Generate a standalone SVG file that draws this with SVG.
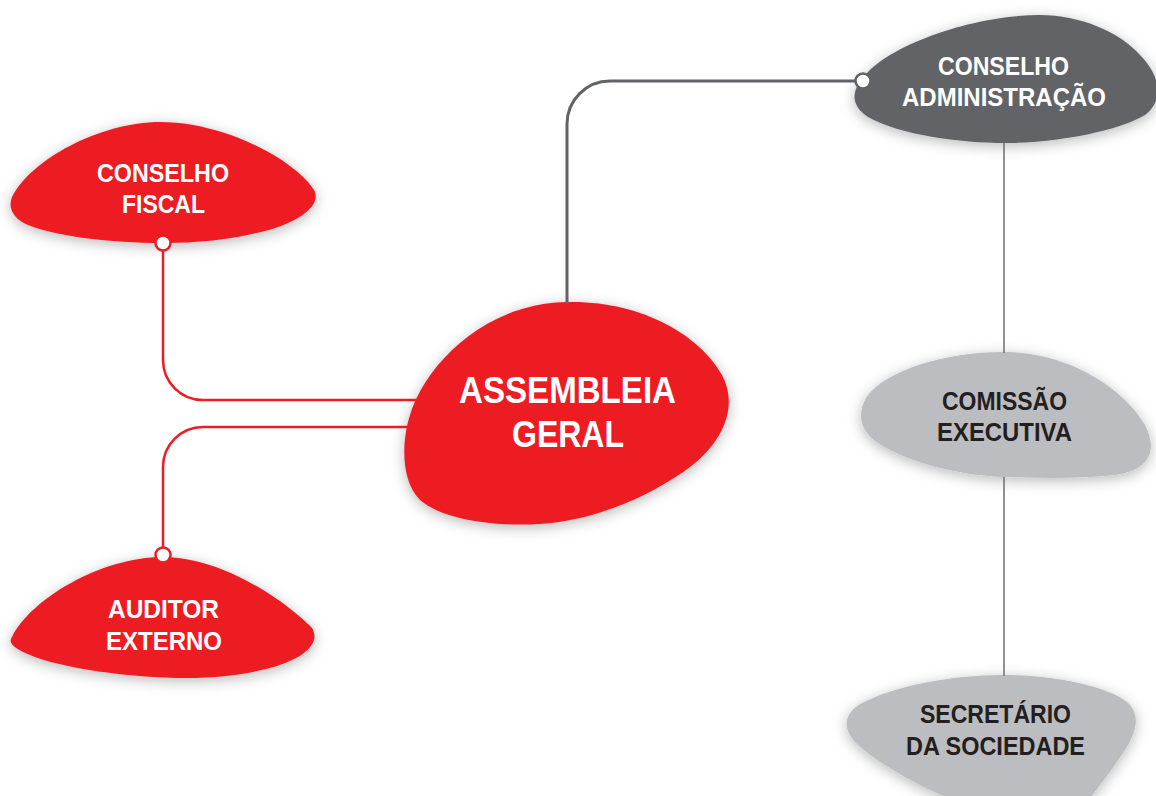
<svg xmlns="http://www.w3.org/2000/svg" width="1156" height="796" viewBox="0 0 1156 796">
<style>
.lbl{font-family:"Liberation Sans",Arial,sans-serif;font-weight:bold;font-size:26px;text-anchor:middle}
.big{font-size:37px}
.w{fill:#ffffff}
.d{fill:#231f20}
.red{fill:#ed1c24;filter:url(#sh)}
.dk{fill:#626366;filter:url(#sh)}
.lt{fill:#bcbdc0;filter:url(#sh)}
.cr{fill:none;stroke:#ed1c24;stroke-width:2.5}
.cg{fill:none;stroke:#626366;stroke-width:3}
.ct{fill:none;stroke:#6d6e71;stroke-width:1.5}
.dotr{fill:#ffffff;stroke:#ed1c24;stroke-width:2.5}
.dotg{fill:#ffffff;stroke:#626366;stroke-width:2.5}
</style>
<defs>
<filter id="sh" x="-20%" y="-30%" width="140%" height="160%">
<feDropShadow dx="0" dy="3" stdDeviation="7" flood-color="#000000" flood-opacity="0.28"/>
</filter>
</defs>
<rect width="1156" height="796" fill="#ffffff"/>
<g id="conselho-fiscal">
<path class="red" d="M12,197 C30,160 100,122 160,122 C225,122 295,160 314,190 C322,205 300,222 265,231 C230,240 195,243 163,243 C110,243 55,236 28,225 C12,218 8,207 12,197 Z"/>
<text class="lbl w" x="163" y="182" textLength="132" lengthAdjust="spacingAndGlyphs">CONSELHO</text>
<text class="lbl w" x="163.5" y="213" textLength="83" lengthAdjust="spacingAndGlyphs">FISCAL</text>
</g>
<g id="auditor-externo">
<path class="red" d="M12,637 C30,600 100,557 163,557 C225,557 290,605 312,628 C322,645 300,660 270,668 C240,676 210,678 187,678 C130,678 60,668 30,655 C12,648 8,642 12,637 Z"/>
<text class="lbl w" x="163.5" y="618" textLength="111" lengthAdjust="spacingAndGlyphs">AUDITOR</text>
<text class="lbl w" x="164" y="650" textLength="116" lengthAdjust="spacingAndGlyphs">EXTERNO</text>
</g>
<g id="assembleia-geral">
<path class="red" d="M567,302 C640,300 700,335 722,375 C738,405 725,440 690,467 C655,493 600,520 540,524 C490,527 440,518 420,500 C400,480 402,440 410,415 C425,365 485,303 567,302 Z"/>
<text class="lbl w big" x="567.5" y="403" textLength="217" lengthAdjust="spacingAndGlyphs">ASSEMBLEIA</text>
<text class="lbl w big" x="568" y="447" textLength="112" lengthAdjust="spacingAndGlyphs">GERAL</text>
</g>
<g id="conselho-administracao">
<path class="dk" d="M1005,143 C1060,143 1120,130 1145,115 C1165,100 1160,75 1140,55 C1120,32 1080,15 1040,15 C980,15 900,40 868,72 C850,90 850,105 868,117 C900,135 960,143 1005,143 Z"/>
<text class="lbl w" x="1003.5" y="75" textLength="131" lengthAdjust="spacingAndGlyphs">CONSELHO</text>
<text class="lbl w" x="1004" y="106" textLength="204" lengthAdjust="spacingAndGlyphs">ADMINISTRAÇÃO</text>
</g>
<g id="comissao-executiva">
<path class="lt" d="M1004,352 C1070,352 1125,390 1145,425 C1158,450 1150,470 1115,475 C1075,479 1040,478 1004,477 C950,475 900,458 878,443 C858,430 858,412 866,398 C885,370 945,352 1004,352 Z"/>
<text class="lbl d" x="1004.5" y="410" textLength="125" lengthAdjust="spacingAndGlyphs">COMISSÃO</text>
<text class="lbl d" x="1004.5" y="441" textLength="135" lengthAdjust="spacingAndGlyphs">EXECUTIVA</text>
</g>
<g id="secretario-sociedade">
<path class="lt" d="M1003,675 C1060,675 1110,688 1127,702 C1140,713 1138,730 1125,750 C1112,770 1100,785 1085,805 L965,805 C925,790 880,765 858,745 C840,728 845,712 862,703 C895,686 950,675 1003,675 Z"/>
<text class="lbl d" x="995.5" y="723" textLength="151" lengthAdjust="spacingAndGlyphs">SECRETÁRIO</text>
<text class="lbl d" x="995.5" y="755" textLength="179" lengthAdjust="spacingAndGlyphs">DA SOCIEDADE</text>
</g>
<g id="connectors">
<path class="cr" d="M163,250 V360 A40,40 0 0 0 203,400 H420"/>
<path class="cr" d="M163,548 V467 A40,40 0 0 1 203,427 H412"/>
<path class="cg" d="M856,81 H610 A43,43 0 0 0 567,124 V304"/>
<path class="ct" d="M1004,143 V353"/>
<path class="ct" d="M1004,477 V676"/>
<circle class="dotr" cx="163" cy="243" r="7.5"/>
<circle class="dotr" cx="163" cy="555" r="7.5"/>
<circle class="dotg" cx="863" cy="81" r="7.5"/>
</g>
</svg>
